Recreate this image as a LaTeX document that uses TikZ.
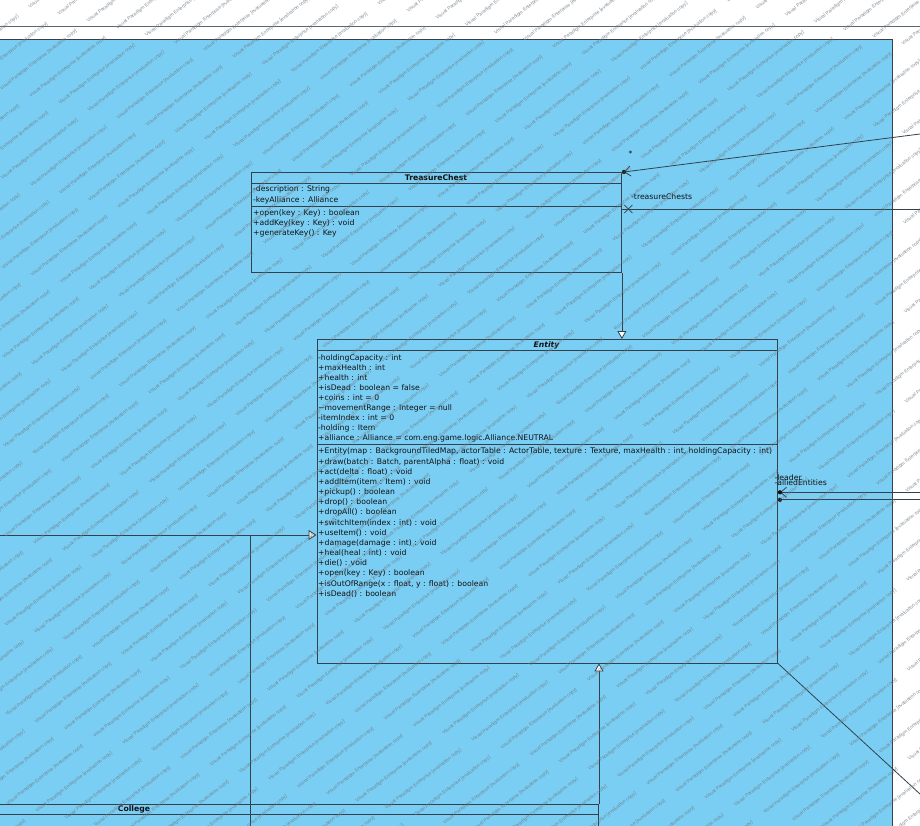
\documentclass[tikz,border=0pt]{standalone}
\usepackage{fontspec}
\setmainfont{DejaVu Sans}[ItalicFont={DejaVu Sans Oblique},BoldFont={DejaVu Sans Bold},BoldItalicFont={DejaVu Sans Bold Oblique}]
\newfontfamily\wmfont{Liberation Sans}
\usetikzlibrary{arrows.meta,calc}
\definecolor{canvasblue}{HTML}{7ACEF4}
\definecolor{edge}{HTML}{34414B}
\definecolor{ink}{HTML}{111111}
\definecolor{wmgray}{HTML}{6E7A82}

\tikzset{
  classbox/.style={draw=edge, line width=0.9pt, rectangle, inner sep=0pt, anchor=north west},
  member/.style={anchor=base west, inner sep=0pt, font=\fontsize{7.7}{8}\selectfont, text=ink},
  classtitle/.style={anchor=base, inner sep=0pt, font=\bfseries\fontsize{7.7}{8}\selectfont, text=ink},
  rolelabel/.style={anchor=base west, inner sep=0pt, font=\fontsize{7.7}{8}\selectfont, text=ink},
  link/.style={draw=edge, line width=0.8pt},
  gen/.style={link, -{Triangle[length=8pt,width=9pt,fill=white]}},
  nav/.style={link, -{Straight Barb[length=6pt,width=10pt]}},
  ownerdot/.style={fill=ink, draw=none},
  watermark/.style={font=\wmfont\fontsize{4.8}{4.8}\selectfont, text=wmgray, text opacity=0.85, rotate=38, inner sep=0pt, anchor=west}
}

\begin{document}
\begin{tikzpicture}[x=1pt,y=-1pt]
\useasboundingbox (0,0) rectangle (920,826);
\clip (0,0) rectangle (920,826);
\fill[white] (0,0) rectangle (920,826);

% outer frame line and diagram canvas
\draw[edge!80, line width=0.9pt] (0,26) -- (920,26);
\draw[edge, line width=1pt, fill=canvasblue] (-5,40) rectangle (892,840);

% ---------- TreasureChest ----------
\node[classbox, minimum width=370pt, minimum height=100pt] (tc) at (251,172) {};
\draw[edge, line width=0.9pt] ($(tc.north west)+(0,11.5)$) -- ($(tc.north east)+(0,11.5)$);
\draw[edge, line width=0.9pt] ($(tc.north west)+(0,34.5)$) -- ($(tc.north east)+(0,34.5)$);
\node[classtitle] (tctitle) at (436,180.4) {TreasureChest};
\node[member] (tca1) at (253,191.9) {-description : String};
\node[member] (tca2) at (253,202.2) {-keyAlliance : Alliance};
\node[member] (tcm1) at (253,215.6) {+open(key : Key) : boolean};
\node[member] (tcm2) at (253,225.8) {+addKey(key : Key) : void};
\node[member] (tcm3) at (253,236.0) {+generateKey() : Key};

% ---------- Entity ----------
\node[classbox, minimum width=460.5pt, minimum height=323.5pt] (ent) at (316.5,339) {};
\draw[edge, line width=0.9pt] ($(ent.north west)+(0,11.5)$) -- ($(ent.north east)+(0,11.5)$);
\draw[edge, line width=0.9pt] ($(ent.north west)+(0,105.5)$) -- ($(ent.north east)+(0,105.5)$);
\node[classtitle, font=\bfseries\itshape\fontsize{7.7}{8}\selectfont] (enttitle) at (546.5,347.4) {Entity};
\foreach \txt [count=\k from 0] in {
  {-holdingCapacity : int},
  {+maxHealth : int},
  {+health : int},
  {+isDead : boolean = false},
  {+coins : int = 0},
  {\textasciitilde movementRange : Integer = null},
  {-itemIndex : int = 0},
  {-holding : Item},
  {+alliance : Alliance = com.eng.game.logic.Alliance.NEUTRAL}}
  \node[member] (enta\k) at (318,{360.2+10*\k}) {\txt};
\foreach \txt [count=\k from 0] in {
  {+Entity(map : BackgroundTiledMap, actorTable : ActorTable, texture : Texture, maxHealth : int, holdingCapacity : int)},
  {+draw(batch : Batch, parentAlpha : float) : void},
  {+act(delta : float) : void},
  {+addItem(item : Item) : void},
  {+pickup() : boolean},
  {+drop() : boolean},
  {+dropAll() : boolean},
  {+switchItem(index : int) : void},
  {+useItem() : void},
  {+damage(damage : int) : void},
  {+heal(heal : int) : void},
  {+die() : void},
  {+open(key : Key) : boolean},
  {+isOutOfRange(x : float, y : float) : boolean},
  {+isDead() : boolean}}
  \node[member] (entm\k) at (318,{453.9+10.17*\k}) {\txt};

% ---------- College ----------
\node[classbox, minimum width=928pt, minimum height=60pt] (col) at (-330,804) {};
\draw[edge, line width=0.9pt] ($(col.north west)+(0,10.3)$) -- ($(col.north east)+(0,10.3)$);
\node[classtitle] (coltitle) at (134,811.9) {College};

% ---------- connector ends at the canvas border ----------
\coordinate (assocA) at (920,134);
\coordinate (assocB) at (920,209);
\coordinate (assocC) at (920,492.3);
\coordinate (assocD) at (920,499.8);
\coordinate (assocE) at (920,794);
\coordinate (genL) at (0,535);
\coordinate (genV) at (250.5,830);
\coordinate (colx) at (599,0);

% generalizations
\draw[gen] (tc.south east) -- (tc.south east |- ent.north);
\draw[gen] (col.north -| colx) -- (ent.south -| colx);
\draw[link] (genV) -- (genV |- genL);
\draw[link, -{Triangle[length=8pt,width=10pt,fill=white!80!gray]}] (genL) -- (genL -| ent.west);

% associations towards TreasureChest
\draw[nav] (assocA) -- ($(tc.north east)+(2,0)$);
\fill[ownerdot] ($(tc.north east)+(2,0)$) circle (2.1pt);
\node[rolelabel] (mult) at (628.5,157) {*};
\draw[link] (assocB) -- (assocB -| tc.east);
\draw[link] ($(assocB -| tc.east)+(2.5,-4)$) -- ++(8,8);
\draw[link] ($(assocB -| tc.east)+(2.5,4)$) -- ++(8,-8);
\node[rolelabel] (tcrole) at (631,199.8) {-treasureChests};

% associations towards Entity
\draw[nav] (assocC) -- ($(assocC -| ent.east)+(2,0)$);
\fill[ownerdot] ($(assocC -| ent.east)+(2,0)$) circle (2.1pt);
\draw[link] (assocD) -- (assocD -| ent.east);
\fill[ownerdot] ($(assocD -| ent.east)+(2,0)$) circle (2.1pt);
\node[rolelabel] (leaderrole) at (774.3,480.8) {-leader};
\node[rolelabel] (alliedrole) at (774.3,485.1) {-alliedEntities};
\draw[link] (ent.south east) -- (assocE);

% evaluation watermark tiled over the sheet
\foreach \j in {-4,...,54} {
  \pgfmathtruncatemacro\ia{floor((-130-37*\j)/110)}
  \pgfmathtruncatemacro\ib{\ia+13}
  \foreach \i in {\ia,...,\ib} {
    \pgfmathsetmacro\tt{110*\i+37*\j}
    \node[watermark] (wm-\i-\j) at ({0.788*\tt},{30*\j-0.616*\tt}) {Visual Paradigm Enterprise [evaluation copy]};
  }
}
\end{tikzpicture}
\end{document}
